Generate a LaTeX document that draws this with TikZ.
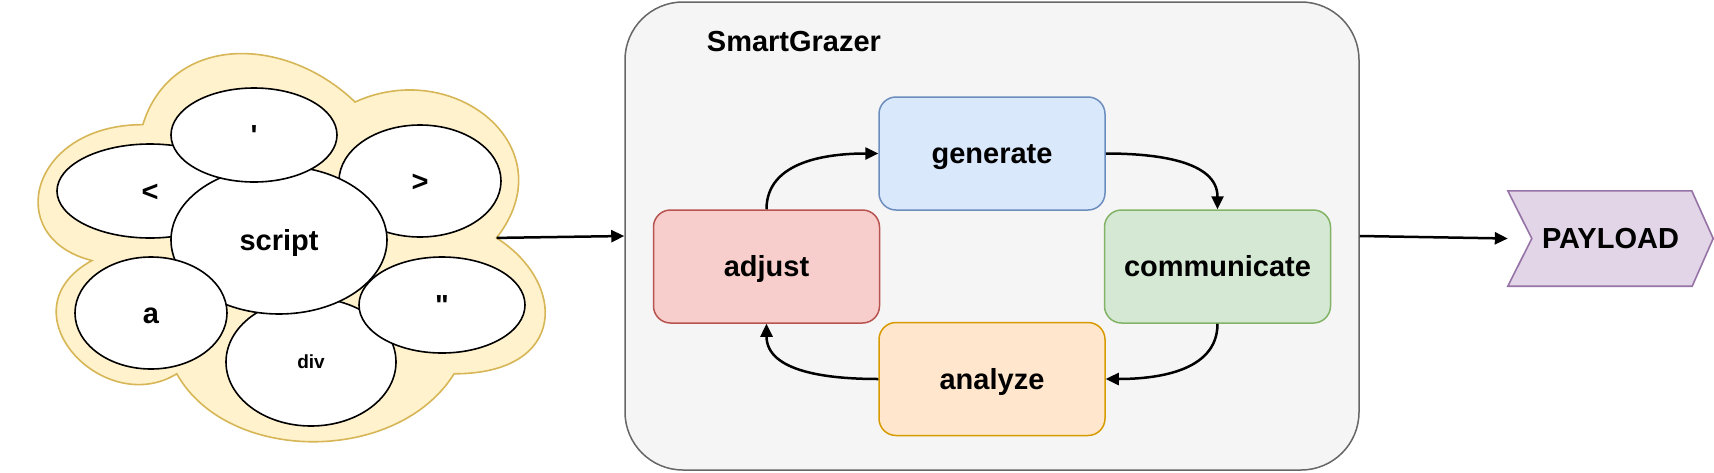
\documentclass[tikz,border=0pt]{standalone}
\usepackage{fontspec}
\setmainfont{Liberation Sans}
\usetikzlibrary{shapes.geometric,arrows.meta,backgrounds}

\definecolor{cloudfill}{HTML}{FFF2CC}
\definecolor{clouddraw}{HTML}{D6B656}
\definecolor{framefill}{HTML}{F5F5F5}
\definecolor{framedraw}{HTML}{666666}
\definecolor{genfill}{HTML}{DAE8FC}
\definecolor{gendraw}{HTML}{6C8EBF}
\definecolor{comfill}{HTML}{D5E8D4}
\definecolor{comdraw}{HTML}{82B366}
\definecolor{adjfill}{HTML}{F8CECC}
\definecolor{adjdraw}{HTML}{B85450}
\definecolor{anafill}{HTML}{FFE6CC}
\definecolor{anadraw}{HTML}{D79B00}
\definecolor{payfill}{HTML}{E1D5E7}
\definecolor{paydraw}{HTML}{9673A6}

\begin{document}
\begin{tikzpicture}[x=1pt, y=-1pt,
    tagfont/.style={font=\bfseries\fontsize{29}{35}\selectfont, text height=26pt, text depth=6pt},
    smallfont/.style={font=\bfseries\fontsize{19}{23}\selectfont, text height=17pt, text depth=4pt},
    bubble/.style={ellipse, draw=black, fill=white, line width=1.6pt, inner sep=0pt, tagfont},
    stage/.style={rectangle, rounded corners=17pt, minimum width=226pt, minimum height=113pt, line width=1.5pt, tagfont},
    flow/.style={line width=2.5pt, -{Triangle[length=13pt,width=12pt]}}]
    \useasboundingbox (0,0) rectangle (1714,472);

    % cloud of fragments
    \begin{scope}[shift={(1.3,11.4)}, xscale=566, yscale=453]
        \draw[fill=cloudfill, draw=clouddraw, line width=1.6pt]
            (0.25,0.25) .. controls (0.05,0.25) and (0,0.5) .. (0.16,0.55)
            .. controls (0,0.66) and (0.18,0.9) .. (0.31,0.8)
            .. controls (0.4,1) and (0.7,1) .. (0.8,0.8)
            .. controls (1,0.8) and (1,0.6) .. (0.875,0.5)
            .. controls (1,0.3) and (0.8,0.1) .. (0.625,0.2)
            .. controls (0.5,0.05) and (0.3,0.05) .. (0.25,0.25) -- cycle;
        \coordinate (notch) at (0.875,0.5);
    \end{scope}

    % fragments
    \node[bubble, minimum width=186pt, minimum height=94pt] (lt) at (150,191) {\textless};
    \node[bubble, minimum width=162pt, minimum height=112pt] (gt) at (420,181) {\textgreater};
    \node[bubble, smallfont, minimum width=170pt, minimum height=128pt] (dv) at (311,362) {div};
    \node[bubble, minimum width=216pt, minimum height=148pt] (sc) at (279,240) {script};
    \node[bubble, minimum width=166pt, minimum height=94pt] (sq) at (254,135) {\textquotesingle};
    \node[bubble, minimum width=152pt, minimum height=112pt] (aa) at (151,313) {a};
    \node[bubble, minimum width=166pt, minimum height=96pt] (dq) at (442,305) {\textquotedbl};

    % SmartGrazer
    \node[rectangle, rounded corners=58pt, draw=framedraw, fill=framefill, line width=1.5pt,
        minimum width=734pt, minimum height=468pt] (frame) at (992,236) {};
    \node[tagfont] (title) at (794,41) {SmartGrazer};

    \node[stage, fill=genfill, draw=gendraw] (generate) at (992,153.5) {generate};
    \node[stage, fill=comfill, draw=comdraw] (communicate) at (1217.5,266.5) {communicate};
    \node[stage, fill=adjfill, draw=adjdraw] (adjust) at (766.5,266.5) {adjust};
    \node[stage, fill=anafill, draw=anadraw] (analyze) at (992,379) {analyze};

    \draw[flow] (adjust.north) to[out=90, in=180] (generate.west);
    \draw[flow] (generate.east) to[out=0, in=90] (communicate.north);
    \draw[flow] (communicate.south) to[out=270, in=0] (analyze.east);
    \draw[flow] (analyze.west) to[out=180, in=270] (adjust.south);

    % payload
    \node[tagfont, minimum width=205pt, minimum height=95pt] (payload) at (1610.5,238.5) {PAYLOAD};
    \begin{scope}[on background layer]
        \draw[fill=payfill, draw=paydraw, line width=1.6pt]
            (payload.north west) -- ++(184,0) -- (payload.east)
            -- ([xshift=-21pt]payload.south east) -- (payload.south west)
            -- ([xshift=24pt]payload.west) -- cycle;
    \end{scope}

    \draw[flow] (notch) -- (frame.west);
    \draw[flow] (frame.east) -- (payload.west);
\end{tikzpicture}
\end{document}
